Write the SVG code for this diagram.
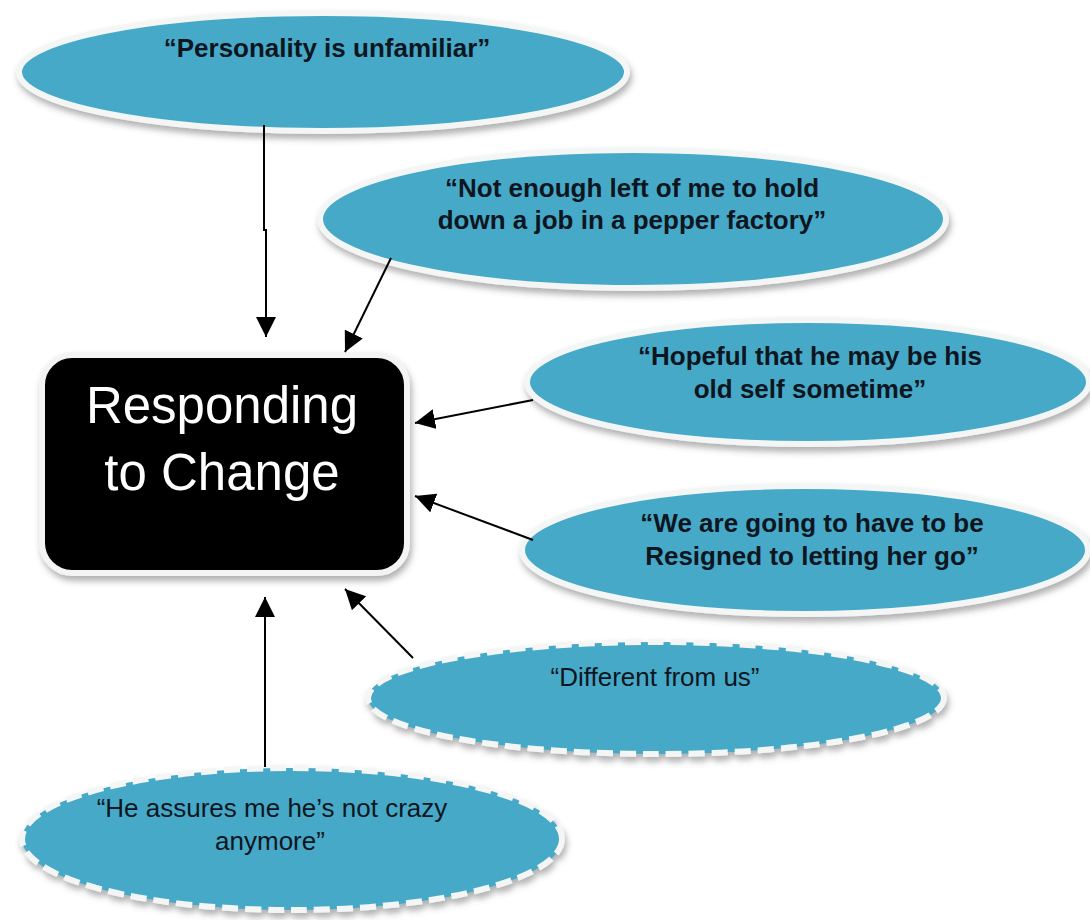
<svg xmlns="http://www.w3.org/2000/svg" width="1090" height="920" viewBox="0 0 1090 920">
<defs>
<filter id="sh" x="-10%" y="-20%" width="120%" height="150%">
<feDropShadow dx="2" dy="5" stdDeviation="3" flood-color="#555" flood-opacity="0.45"/>
</filter>
<marker id="ah" viewBox="0 0 20 20" refX="20" refY="10" markerWidth="20" markerHeight="20" markerUnits="userSpaceOnUse" orient="auto">
<path d="M0,0 L20,10 L0,20 z" fill="#000"/>
</marker>
<style>
.oval{fill:#46a9c8;stroke:#f4f6f6;stroke-width:6;filter:url(#sh)}
.dash{stroke-dasharray:16 7}
.q{font-family:"Liberation Sans",Arial,sans-serif;font-size:26px;fill:#0d1620;text-anchor:middle}
.b{font-weight:bold}
.box{fill:#000;stroke:#f4f4f4;stroke-width:6;filter:url(#sh)}
.bt{font-family:"Liberation Sans",Arial,sans-serif;font-size:51px;fill:#fff;text-anchor:middle}
.c{fill:none;stroke:#000;stroke-width:2;marker-end:url(#ah)}
</style>
</defs>
<rect width="1090" height="920" fill="#fff"/>
<g id="n1">
<ellipse class="oval" cx="323" cy="72" rx="304" ry="59"/>
<text class="q b" x="327" y="57">“Personality is unfamiliar”</text>
</g>
<g id="n2">
<ellipse class="oval" cx="633" cy="219" rx="313" ry="69"/>
<text class="q b" x="632" y="197">“Not enough left of me to hold</text>
<text class="q b" x="632" y="229">down a job in a pepper factory”</text>
</g>
<g id="n3">
<ellipse class="oval" cx="808" cy="382" rx="281" ry="62"/>
<text class="q b" x="810" y="365">“Hopeful that he may be his</text>
<text class="q b" x="810" y="398">old self sometime”</text>
</g>
<g id="n4">
<ellipse class="oval" cx="805" cy="550" rx="283" ry="64"/>
<text class="q b" x="812" y="532">“We are going to have to be</text>
<text class="q b" x="812" y="565">Resigned to letting her go”</text>
</g>
<g id="n5">
<ellipse class="oval dash" cx="656" cy="698" rx="288" ry="56"/>
<text class="q" x="655" y="686">“Different from us”</text>
</g>
<g id="n6">
<ellipse class="oval dash" cx="292" cy="839" rx="270" ry="71"/>
<text class="q" x="272" y="817">“He assures me he’s not crazy</text>
<text class="q" x="270" y="850">anymore”</text>
</g>
<g id="center">
<rect class="box" x="42" y="355" width="365" height="218" rx="30"/>
<text class="bt" x="222" y="423">Responding</text>
<text class="bt" x="222" y="490">to Change</text>
</g>
<g id="connectors">
<path class="c" d="M264,125 V230 H266 V337"/>
<path class="c" d="M391,258 L345,352"/>
<path class="c" d="M533,400 L415,423"/>
<path class="c" d="M533,540 L415,496"/>
<path class="c" d="M413,658 L345,589"/>
<path class="c" d="M265,767 V597"/>
</g>
</svg>
